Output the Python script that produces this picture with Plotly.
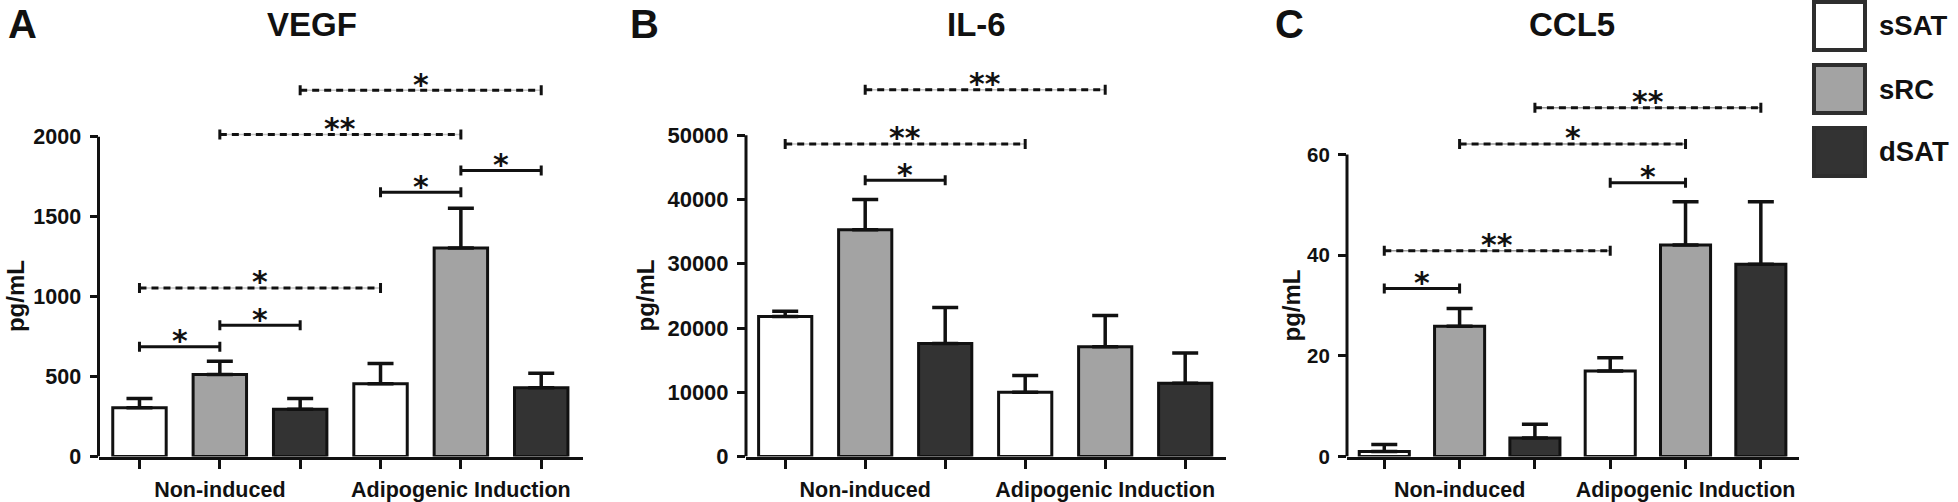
import plotly.graph_objects as go

W, H = 1958, 502
INK = "#111111"
FONT = "Liberation Sans, Arial, Helvetica, sans-serif"
STAR_FONT = "DejaVu Sans, Liberation Sans, sans-serif"

# ---------------- data ----------------
groups = ["Non-induced", "Adipogenic Induction"]
series_names = ["sSAT", "sRC", "dSAT"]
series_colors = ["#ffffff", "#a3a3a3", "#333333"]

# bar order in every panel: Non-induced sSAT, sRC, dSAT | Adipogenic sSAT, sRC, dSAT
bar_positions = [0, 1, 2, 3, 4, 5]
bar_series = [0, 1, 2, 0, 1, 2]
group_tick_text = ["", groups[0], "", "", groups[1], ""]

vegf_mean = [305, 513, 295, 455, 1304, 430]
vegf_sem = [57, 83, 67, 127, 249, 90]
vegf_ticks = [0, 500, 1000, 1500, 2000]

il6_mean = [21800, 35300, 17600, 10000, 17100, 11400]
il6_sem = [800, 4700, 5600, 2600, 4850, 4700]
il6_ticks = [0, 10000, 20000, 30000, 40000, 50000]

ccl5_mean = [1.0, 25.9, 3.7, 17.0, 42.0, 38.2]
ccl5_sem = [1.4, 3.5, 2.7, 2.6, 8.6, 12.4]
ccl5_ticks = [0, 20, 40, 60]

# significance brackets: (bar a, bar b, height, label, dashed)
vegf_sig = [(0, 1, 686, "*", False), (1, 2, 821, "*", False), (0, 3, 1054, "*", True),
            (3, 4, 1653, "*", False), (4, 5, 1788, "*", False), (1, 4, 2014, "**", True),
            (2, 5, 2291, "*", True)]
il6_sig = [(1, 2, 43000, "*", False), (0, 3, 48650, "**", True), (1, 4, 57100, "**", True)]
ccl5_sig = [(0, 1, 33.4, "*", False), (0, 3, 40.9, "**", True), (3, 4, 54.4, "*", False),
            (1, 4, 62.1, "*", True), (2, 5, 69.3, "**", True)]

# ---------------- layout geometry (pixels) ----------------
plot_bottom_px = 456.5
plot_top_px = 30
panels = [
    dict(letter="A", title="VEGF", mean=vegf_mean, sem=vegf_sem, ticks=vegf_ticks, sig=vegf_sig,
         xl=98.5, xr=583, xrange=[-0.51, 5.52], axis_top_px=136.7, title_x=312, letter_x=22,
         ylabel_x=15.5, tick_size=21.5, gapcol="#c4c4c4"),
    dict(letter="B", title="IL-6", mean=il6_mean, sem=il6_sem, ticks=il6_ticks, sig=il6_sig,
         xl=746, xr=1226, xrange=[-0.49, 5.51], axis_top_px=135.3, title_x=976, letter_x=644.5,
         ylabel_x=645.6, tick_size=22, gapcol="#c4c4c4"),
    dict(letter="C", title="CCL5", mean=ccl5_mean, sem=ccl5_sem, ticks=ccl5_ticks, sig=ccl5_sig,
         xl=1347, xr=1798.5, xrange=[-0.495, 5.5], axis_top_px=154.5, title_x=1572, letter_x=1289,
         ylabel_x=1291, tick_size=20.5, gapcol="#9a9a9a"),
]

fig = go.Figure()
shapes = []
annotations = []
layout_axes = {}


def bold(size, color=INK, family=FONT):
    return dict(family=family, size=size, color=color, weight="bold")


def b(t):
    return f"<b>{t}</b>" if t else ""


for k, p in enumerate(panels):
    sfx = "" if k == 0 else str(k + 1)
    xa, ya = "x" + sfx, "y" + sfx
    ymax_tick = p["ticks"][-1]
    y_top_val = ymax_tick * (plot_bottom_px - plot_top_px) / (plot_bottom_px - p["axis_top_px"])

    for s in range(3):
        idx = [i for i in range(len(bar_positions)) if bar_series[i] == s]
        fig.add_trace(go.Bar(
            x=[bar_positions[i] for i in idx],
            y=[p["mean"][i] for i in idx],
            width=0.665,
            name=series_names[s],
            showlegend=False,
            marker=dict(color=series_colors[s], line=dict(color=INK, width=3)),
            error_y=dict(type="data", symmetric=False,
                         array=[p["sem"][i] for i in idx],
                         arrayminus=[0] * len(idx),
                         color=INK, thickness=3.5, width=13),
            xaxis=xa, yaxis=ya,
        ))

    layout_axes["xaxis" + sfx] = dict(
        domain=[p["xl"] / W, p["xr"] / W], range=p["xrange"], anchor=ya,
        showline=True, linewidth=3, linecolor=INK,
        ticks="outside", ticklen=9, tickwidth=3, tickcolor=INK,
        tickmode="array", tickvals=bar_positions, ticktext=[b(t) for t in group_tick_text],
        tickfont=bold(21.5), ticklabelstandoff=3, automargin=False,
        showgrid=False, zeroline=False, fixedrange=True,
    )
    layout_axes["yaxis" + sfx] = dict(
        domain=[1 - plot_bottom_px / H, 1 - plot_top_px / H], range=[0, y_top_val], anchor=xa,
        showline=False, ticks="outside", ticklen=8, tickwidth=3, tickcolor=INK,
        tickmode="array", tickvals=p["ticks"], ticktext=[b(str(t)) for t in p["ticks"]],
        tickfont=bold(p["tick_size"]), ticklabelstandoff=4, automargin=False,
        showgrid=False, zeroline=False, fixedrange=True,
    )
    # y axis line, only up to the top tick
    shapes.append(dict(type="line", xref=xa + " domain", yref=ya, x0=0, x1=0, y0=0, y1=ymax_tick,
                       line=dict(color=INK, width=3), layer="above"))

    # significance brackets
    for (a, bb, h, lab, dashed) in p["sig"]:
        xa0, xb0 = bar_positions[a], bar_positions[bb]
        if dashed:
            shapes.append(dict(type="line", xref=xa, yref=ya, x0=xa0, x1=xb0, y0=h, y1=h,
                               line=dict(color=p["gapcol"], width=1.5), layer="above"))
            shapes.append(dict(type="line", xref=xa, yref=ya, x0=xa0, x1=xb0, y0=h, y1=h,
                               line=dict(color=INK, width=3, dash="7px,5px"), layer="above"))
        else:
            shapes.append(dict(type="line", xref=xa, yref=ya, x0=xa0, x1=xb0, y0=h, y1=h,
                               line=dict(color=INK, width=3), layer="above"))
        for xe in (xa0, xb0):
            shapes.append(dict(type="line", xref=xa, yref=ya, x0=xe, x1=xe,
                               ysizemode="pixel", yanchor=h, y0=-5, y1=5,
                               line=dict(color=INK, width=3), layer="above"))
        annotations.append(dict(xref=xa, yref=ya, x=(xa0 + xb0) / 2, y=h, text=lab,
                                showarrow=False, font=bold(30, family=STAR_FONT),
                                xanchor="center", yanchor="middle", yshift=6))

    # titles, panel letters, axis titles
    annotations.append(dict(xref="paper", yref="paper", x=p["title_x"] / W, y=1 - 25 / H,
                            text=b(p["title"]), showarrow=False, font=bold(33),
                            xanchor="center", yanchor="middle"))
    annotations.append(dict(xref="paper", yref="paper", x=p["letter_x"] / W, y=1,
                            text=b(p["letter"]), showarrow=False, font=bold(40),
                            xanchor="center", yanchor="top"))
    annotations.append(dict(xref="paper", yref=ya, x=p["ylabel_x"] / W, y=ymax_tick / 2,
                            text=b("pg/mL"), textangle=-90, showarrow=False, font=bold(24),
                            xanchor="center", yanchor="middle"))

# legend (drawn as boxes + labels)
leg_x0, leg_x1 = 1814, 1865
leg_tops = [2, 65, 128]
leg_h = 48
for s in range(3):
    y0 = leg_tops[s]
    shapes.append(dict(type="rect", xref="paper", yref="paper",
                       x0=leg_x0 / W, x1=leg_x1 / W, y0=1 - y0 / H, y1=1 - (y0 + leg_h) / H,
                       fillcolor=series_colors[s], line=dict(color="#2e2e2e", width=4)))
    annotations.append(dict(xref="paper", yref="paper", x=1877 / W, y=1 - (y0 + leg_h / 2) / H,
                            text=b(series_names[s]), showarrow=False, font=bold(27.5),
                            xanchor="left", yanchor="middle"))

fig.update_layout(
    width=W, height=H, margin=dict(l=0, r=0, t=0, b=0, autoexpand=False),
    paper_bgcolor="white", plot_bgcolor="white",
    barmode="overlay", showlegend=False,
    shapes=shapes, annotations=annotations,
    **layout_axes,
)

fig.write_html(
    "out.html",
    config={"displayModeBar": False},
    post_script="document.body.style.margin='0';document.body.style.overflow='hidden';",
)
